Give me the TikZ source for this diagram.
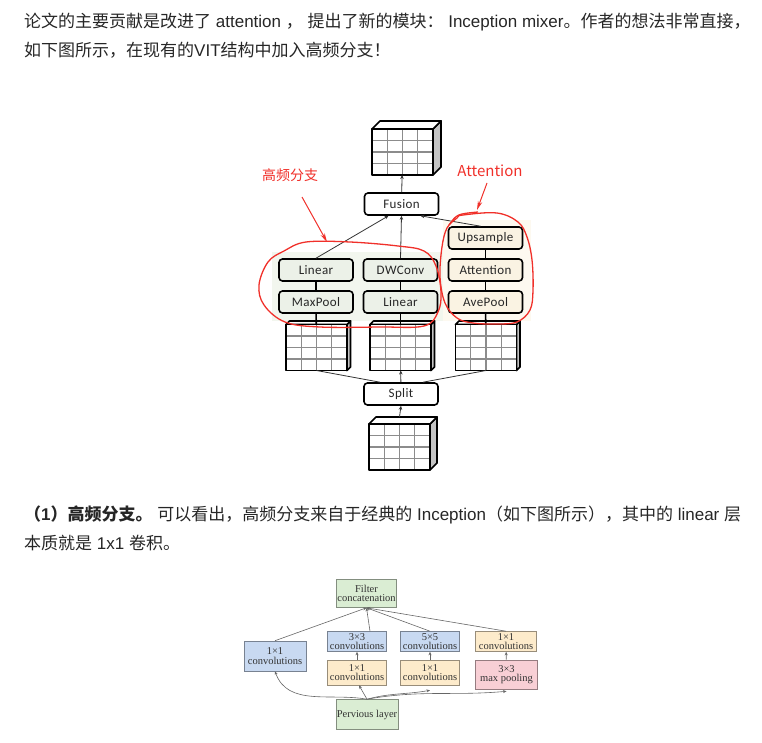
\documentclass[tikz,border=0pt]{standalone}
\usepackage{fontspec}
\setmainfont{Liberation Serif}
\newfontfamily\cjk{Noto Sans CJK SC}
\newfontfamily\lat{Liberation Sans}
\newfontfamily\labelfont{Carlito}[LetterSpace=3]
\usetikzlibrary{arrows.meta,calc}

\definecolor{ink}{HTML}{262626}
\definecolor{pen}{HTML}{F0302A}
\definecolor{cubegray}{HTML}{C4C4C4}
\definecolor{gridgray}{HTML}{8C8C8C}
\definecolor{hfbg}{HTML}{F2F6EE}
\definecolor{hffill}{HTML}{ECF1E8}
\definecolor{atbg}{HTML}{FDF9F0}
\definecolor{atfill}{HTML}{FAF3E3}
\definecolor{incgreen}{HTML}{DAEDD3}
\definecolor{incblue}{HTML}{C8D9F1}
\definecolor{incbeige}{HTML}{FDEBCB}
\definecolor{incpink}{HTML}{F8CFD5}

\tikzset{
  para/.style={anchor=west, inner sep=0pt, text=ink, font=\cjk\fontsize{17}{17}\selectfont},
  blk/.style={draw=black, line width=1.6pt, rounded corners=3.5pt, minimum width=74pt,
    minimum height=22pt, inner sep=0pt, text=black!85, fill=white,
    font=\labelfont\fontsize{13}{13}\selectfont},
  hfblk/.style={blk, fill=hffill},
  atblk/.style={blk, fill=atfill},
  link/.style={draw=black!80, line width=0.8pt},
  stem/.style={draw=black, line width=1.6pt},
  up/.style={-{Stealth[length=4pt,width=3.5pt]}},
  cubeface/.style={fill=white, minimum width=61pt, minimum height=46pt, inner sep=0pt, outer sep=0pt},
  cubeedge/.style={draw=black, line width=1.7pt, line join=round},
  gridline/.style={draw=gridgray, line width=1.3pt},
  redpen/.style={draw=pen, line width=1.3pt},
  redarrow/.style={draw=pen, line width=1pt, -{Stealth[length=9pt,width=4.5pt]}},
  redlabel/.style={text=pen, inner sep=0pt, font=\cjk\fontsize{14}{14}\selectfont},
  incbox/.style={fill=#1, draw=#1!60!black, line width=0.6pt, inner sep=0pt, align=center,
    text=black!80, font=\fontsize{10.5}{9.6}\selectfont},
  inclink/.style={draw=black!60, line width=0.6pt, -{Stealth[length=3.5pt,width=3pt]}},
}

% grid cube: #1 name, #2/#3 centre of the front face, #4 depth of the box
\newcommand\gridcube[4]{%
  \draw[cubeedge, fill=cubegray] (#2+30.5,#3-23) -- ++(#4,-#4) -- ++(0,46) -- ++(-#4,#4) -- cycle;
  \draw[cubeedge, fill=white] (#2-30.5,#3-23) -- ++(#4,-#4) -- ++(61,0) -- ++(-#4,#4) -- cycle;
  \node[cubeface] (#1) at (#2,#3) {};
  \foreach \k in {1,2,3} {
    \draw[gridline] ($(#1.north west)!\k/4!(#1.north east)$) -- ($(#1.south west)!\k/4!(#1.south east)$);
    \draw[gridline] ($(#1.north west)!\k/4!(#1.south west)$) -- ($(#1.north east)!\k/4!(#1.south east)$);
  }
  \draw[cubeedge] (#1.north west) rectangle (#1.south east);
}

\begin{document}
\begin{tikzpicture}[x=1pt,y=-1pt]
\useasboundingbox (0,0) rectangle (762,743);

% ---------- text ----------
\node[para] (p1a) at (24,22) {论文的主要贡献是改进了{\lat{} attention }，{\lat{} }提出了新的模块：{\lat{} Inception mixer}。作者的想法非常直接，};
\node[para] (p1b) at (24,50) {如下图所示，在现有的{\lat VIT}结构中加入高频分支！};
\node[para] (p2a) at (24,515) {{\bfseries （{\lat 1}）高频分支。}{\lat{} }可以看出，高频分支来自于经典的{\lat{} Inception}（如下图所示），其中的{\lat{} linear }层};
\node[para] (p2b) at (24,543) {本质就是{\lat{} 1x1 }卷积。};

% ---------- inception mixer ----------
\fill[hfbg] (272,252) rectangle (443,321);
\fill[atbg] (443,220) rectangle (531,321);

\gridcube{cubeT}{402.5}{152}{8}
\gridcube{cubeL}{316.5}{347.5}{3.5}
\gridcube{cubeM}{400.5}{347.5}{3.5}
\gridcube{cubeR}{486}{347.5}{3.5}
\gridcube{cubeB}{399.5}{447}{7}

\node[blk] (fusion) at (401.5,204) {Fusion};
\node[blk] (split) at (401,394) {Split};
\node[hfblk] (linA) at (316,270) {Linear};
\node[hfblk] (maxp) at (316,302) {MaxPool};
\node[hfblk] (dwc) at (400.5,270) {DWConv};
\node[hfblk] (linB) at (400.5,302) {Linear};
\node[atblk] (ups) at (485.5,238) {Upsample};
\node[atblk] (att) at (485.5,270) {Attention};
\node[atblk] (avep) at (485.5,302) {AvePool};

\draw[link, up] (fusion) -- (cubeT);
\draw[link, up] (linA.north) -- ([xshift=-13pt]fusion.south);
\draw[link, up] (dwc.north) -- (fusion.south);
\draw[link, up] ([xshift=-5pt]ups.north) -- ([xshift=19pt]fusion.south);
\draw[stem] (linA) -- (maxp);
\draw[stem] (dwc) -- (linB);
\draw[stem] (ups) -- (att);
\draw[stem] (att) -- (avep);
\draw[stem] (maxp) -- (cubeL);
\draw[stem] (linB) -- (cubeM);
\draw[stem] (avep) -- (cubeR);
\draw[link] ([xshift=-21pt]split.north) -- (cubeL.south);
\draw[link, up] (split) -- (cubeM);
\draw[link] ([xshift=22pt]split.north) -- (cubeR.south);
\draw[link, up] ([yshift=7pt]cubeB.north) -- (split.south);

% ---------- pen annotations ----------
\node[redlabel] (hfLabel) at (290,175) {高频分支};
\node[redlabel, font=\cjk\fontsize{15}{15}\selectfont] (atLabel) at (490,171) {Attention};
\coordinate (hfTail) at (302,197);
\coordinate (hfTip) at (327,242);
\coordinate (atTail) at (487,183);
\coordinate (atTip) at (477,210);
\draw[redarrow] (hfTail) -- (hfTip);
\draw[redarrow] (atTail) -- (atTip);
\draw[redpen] plot[smooth cycle, tension=0.6] coordinates {
  (306,242) (350,242) (398,246) (424,251) (436,266) (441,292) (438,312) (424,326)
  (380,327) (320,327) (285,322) (264,305) (259,285) (268,262) (284,251)};
\draw[redpen] plot[smooth cycle, tension=0.6] coordinates {
  (463,215) (497,213) (518,222) (527,237) (532,260) (533,290) (530,310) (517,322)
  (497,324) (473,323) (457,318) (445,303) (440,277) (442,247) (447,228) (457,218)};
\draw[redpen] (449,225) .. controls (457,214) .. (478,212);

% ---------- inception module ----------
\node[incbox=incgreen, minimum width=60pt, minimum height=28pt] (filt) at (366.5,593.5) {Filter\\concatenation};
\node[incbox=incblue, minimum width=59pt, minimum height=20pt] (c3) at (357,641.5) {3×3\\convolutions};
\node[incbox=incblue, minimum width=59pt, minimum height=20pt] (c5) at (430,641.5) {5×5\\convolutions};
\node[incbox=incbeige, minimum width=61pt, minimum height=20pt] (c1r) at (506,641.5) {1×1\\convolutions};
\node[incbox=incblue, minimum width=62pt, minimum height=30pt] (c1l) at (275,656) {1×1\\convolutions};
\node[incbox=incbeige, minimum width=59pt, minimum height=25pt] (r3) at (357,672.5) {1×1\\convolutions};
\node[incbox=incbeige, minimum width=59pt, minimum height=25pt] (r5) at (430,672.5) {1×1\\convolutions};
\node[incbox=incpink, minimum width=62pt, minimum height=29pt] (pool) at (506.5,674.5) {3×3\\max pooling};
\node[incbox=incgreen, minimum width=62pt, minimum height=30pt] (prev) at (367,714.5) {Pervious layer};

\draw[inclink] (c1l.north) -- (filt.south);
\draw[inclink] ([xshift=13pt]c3.north) -- (filt.south);
\draw[inclink] (c5.north) -- (filt.south);
\draw[inclink] (c1r.north) -- (filt.south);
\draw[inclink] (r3) -- (c3);
\draw[inclink] (r5) -- (c5);
\draw[inclink] (pool) -- (c1r);
\draw[inclink] (prev.north) to[out=170, in=-70] (c1l.south);
\draw[inclink] (prev.north) -- ([xshift=2pt]r3.south);
\draw[inclink] (prev.north) to[out=15, in=190] ([yshift=-5pt]r5.south);
\draw[inclink] (prev.north) to[out=10, in=185] ([yshift=-2pt]pool.south);
\end{tikzpicture}
\end{document}
